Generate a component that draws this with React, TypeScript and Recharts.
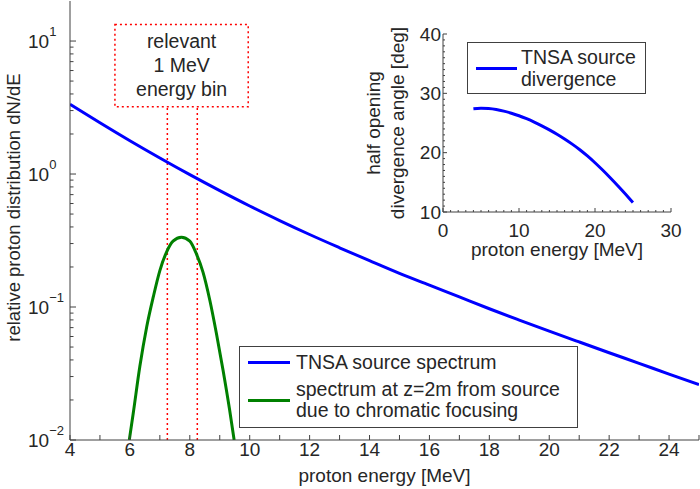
import React from "react"
import {
  LineChart,
  Line,
  XAxis,
  YAxis,
  ReferenceArea,
  ReferenceLine,
  Legend,
} from "recharts"

const FONT = '"Liberation Sans", Arial, Helvetica, sans-serif'
const INK = "#262626"
const FRAME = "#404040"
const BLUE = "#0000ff"
const GREEN = "#008000"
const RED = "#ff0000"

// TNSA source spectrum (relative dN/dE)
const sourceEnergy = [4, 5, 6, 7, 8, 9, 10, 11, 12, 13, 14, 15, 16, 17, 18, 19, 20, 21, 22, 23, 24, 25]
const sourceDnde = [
  3.35, 2.43, 1.78, 1.32, 0.989, 0.75, 0.575, 0.447, 0.351, 0.279, 0.223, 0.179, 0.146, 0.119,
  0.097, 0.0798, 0.0659, 0.0546, 0.0453, 0.0377, 0.0313, 0.0261,
]

// spectrum at z=2m from the source (chromatic focusing)
const focusedEnergy = [
  5.98, 6.11, 6.33, 6.56, 6.78, 7.0, 7.22, 7.44, 7.72, 8.0, 8.22, 8.44, 8.67, 8.89, 9.11, 9.33, 9.48,
]
const focusedDnde = [
  0.01, 0.0158, 0.0355, 0.0708, 0.119, 0.188, 0.258, 0.313, 0.335, 0.313, 0.251, 0.183, 0.112,
  0.063, 0.0335, 0.0168, 0.01,
]

// inset: source divergence (half opening angle, deg)
const divEnergy = [4, 5, 6, 7, 8, 9, 10, 11, 12, 13, 14, 15, 16, 17, 18, 19, 20, 21, 22, 23, 24, 25]
const divAngle = [
  27.4, 27.48, 27.43, 27.27, 27.0, 26.65, 26.22, 25.72, 25.15, 24.52, 23.84, 23.1, 22.3, 21.44,
  20.5, 19.45, 18.3, 17.07, 15.77, 14.42, 13.03, 11.6,
]

const energyTicks = [4, 5, 6, 7, 8, 9, 10, 11, 12, 13, 14, 15, 16, 17, 18, 19, 20, 21, 22, 23, 24, 25]
const dndeTicks = [
  0.01, 0.02, 0.03, 0.04, 0.05, 0.06, 0.07, 0.08, 0.09,
  0.1, 0.2, 0.3, 0.4, 0.5, 0.6, 0.7, 0.8, 0.9,
  1, 2, 3, 4, 5, 6, 7, 8, 9, 10,
]
const insetEnergyTicks = [
  0, 1, 2, 3, 4, 5, 6, 7, 8, 9, 10, 11, 12, 13, 14, 15, 16, 17, 18, 19, 20, 21, 22, 23, 24, 25,
  26, 27, 28, 29, 30,
]
const insetAngleTicks = [
  10, 11, 12, 13, 14, 15, 16, 17, 18, 19, 20, 21, 22, 23, 24, 25, 26, 27, 28, 29, 30, 31, 32,
  33, 34, 35, 36, 37, 38, 39, 40,
]

// the "relevant 1 MeV energy bin" annotation
const binEdges = [7.25, 8.25]
const binBox = { x1: 5.5, x2: 9.95, y1: 3.2, y2: 13.3 }
const binText = ["relevant", "1 MeV", "energy bin"]

const sourceData = sourceEnergy.map((e, i) => ({ e, v: sourceDnde[i] }))
const focusedData = focusedEnergy.map((e, i) => ({ e, v: focusedDnde[i] }))
const divData = divEnergy.map((e, i) => ({ e, v: divAngle[i] }))

const isDecade = (v: number) => Math.abs(Math.log10(v) - Math.round(Math.log10(v))) < 1e-6

const textProps = { fill: INK, fontFamily: FONT }

function leftLogTick({ x, y, payload }: any) {
  const v = payload.value
  const major = isDecade(v)
  const exp = Math.round(Math.log10(v))
  return (
    <g>
      <line x1={x} x2={x + (major ? 6 : 3.5)} y1={y} y2={y} stroke={FRAME} />
      {major && (
        <text x={x - 42} y={y + 7} fontSize={19} {...textProps}>
          10
          <tspan fontSize={13} dy={-12}>
            {exp < 0 ? `\u2212${-exp}` : exp}
          </tspan>
        </text>
      )}
    </g>
  )
}

function rightLogTick({ x, y, payload }: any) {
  const major = isDecade(payload.value)
  return <line x1={x} x2={x - (major ? 6 : 3.5)} y1={y} y2={y} stroke={FRAME} />
}

function bottomTick({ x, y, payload }: any) {
  const v = payload.value
  return (
    <g>
      <line x1={x} x2={x} y1={y} y2={y - 5} stroke={FRAME} />
      {v % 2 === 0 && (
        <text x={x} y={y + 9} textAnchor="middle" dominantBaseline="central" fontSize={19} {...textProps}>
          {v}
        </text>
      )}
    </g>
  )
}

function topTick({ x, y }: any) {
  return <line x1={x} x2={x} y1={y} y2={y + 5} stroke={FRAME} />
}

function insetBottomTick({ x, y, payload }: any) {
  const v = payload.value
  const major = v % 10 === 0
  return (
    <g>
      <line x1={x} x2={x} y1={y} y2={y - (major ? 4 : 2)} stroke={FRAME} />
      {major && (
        <text x={x} y={y + 18} textAnchor="middle" dominantBaseline="central" fontSize={19} {...textProps}>
          {v}
        </text>
      )}
    </g>
  )
}

function insetTopTick({ x, y, payload }: any) {
  const major = payload.value % 10 === 0
  return <line x1={x} x2={x} y1={y} y2={y + (major ? 4 : 2)} stroke={FRAME} />
}

function insetLeftTick({ x, y, payload }: any) {
  const v = payload.value
  const major = v % 10 === 0
  return (
    <g>
      <line x1={x} x2={x + (major ? 4 : 2)} y1={y} y2={y} stroke={FRAME} />
      {major && (
        <text x={x - 2} y={y} textAnchor="end" dominantBaseline="central" fontSize={19} {...textProps}>
          {v}
        </text>
      )}
    </g>
  )
}

function insetRightTick({ x, y, payload }: any) {
  const major = payload.value % 10 === 0
  return <line x1={x} x2={x - (major ? 4 : 2)} y1={y} y2={y} stroke={FRAME} />
}

function MainYTitle({ viewBox }: any) {
  const cx = viewBox.x + 19.5
  const cy = viewBox.y + viewBox.height / 2 - 13
  return (
    <text x={cx} y={cy} transform={`rotate(-90 ${cx} ${cy})`} textAnchor="middle" fontSize={18.5} {...textProps}>
      relative proton distribution dN/dE
    </text>
  )
}

function MainXTitle({ viewBox }: any) {
  return (
    <text x={viewBox.x + viewBox.width / 2} y={viewBox.y + 42} textAnchor="middle" fontSize={19} {...textProps}>
      proton energy [MeV]
    </text>
  )
}

function InsetYTitle({ viewBox }: any) {
  const cy = viewBox.y + viewBox.height / 2
  const lines = [
    { text: "half opening", x: viewBox.x + 19.5 },
    { text: "divergence angle [deg]", x: viewBox.x + 44 },
  ]
  return (
    <g>
      {lines.map((l) => (
        <text
          key={l.text}
          x={l.x}
          y={cy}
          transform={`rotate(-90 ${l.x} ${cy})`}
          textAnchor="middle"
          fontSize={19}
          {...textProps}
        >
          {l.text}
        </text>
      ))}
    </g>
  )
}

function InsetXTitle({ viewBox }: any) {
  return (
    <text x={viewBox.x + viewBox.width / 2} y={viewBox.y + 44} textAnchor="middle" fontSize={19} {...textProps}>
      proton energy [MeV]
    </text>
  )
}

function BinLabel({ viewBox }: any) {
  const cx = viewBox.x + viewBox.width / 2
  return (
    <g>
      {binText.map((t, i) => (
        <text
          key={t}
          x={cx}
          y={viewBox.y + 16 + i * 24}
          textAnchor="middle"
          dominantBaseline="central"
          fontSize={19.5}
          {...textProps}
        >
          {t}
        </text>
      ))}
    </g>
  )
}

function SpectrumLegend({ payload }: any) {
  return (
    <div
      style={{
        width: 339,
        height: 82,
        boxSizing: "border-box",
        border: `1px solid ${FRAME}`,
        background: "#fff",
        fontFamily: FONT,
        fontSize: 19.5,
        color: INK,
        padding: "3px 0 0 8px",
      }}
    >
      {(payload || []).map((p: any, i: number) => (
        <div
          key={i}
          style={{ display: "flex", alignItems: "center", height: i === 0 ? 24 : 42, marginTop: i === 0 ? 0 : 5 }}
        >
          <div style={{ width: 42, height: 3, background: p.color, marginRight: 6, flex: "none" }} />
          <div style={{ whiteSpace: "pre-line", lineHeight: "21px" }}>{p.value}</div>
        </div>
      ))}
    </div>
  )
}

function DivergenceLegend({ payload }: any) {
  return (
    <div
      style={{
        width: 179,
        height: 52,
        boxSizing: "border-box",
        border: `1px solid ${FRAME}`,
        background: "#fff",
        fontFamily: FONT,
        fontSize: 19.5,
        color: INK,
        padding: "2px 0 0 8px",
      }}
    >
      {(payload || []).map((p: any, i: number) => (
        <div key={i} style={{ display: "flex", alignItems: "center", height: 46 }}>
          <div style={{ width: 41, height: 3, background: p.color, marginRight: 4, flex: "none" }} />
          <div style={{ whiteSpace: "pre-line", lineHeight: "22.5px" }}>{p.value}</div>
        </div>
      ))}
    </div>
  )
}

export default function App() {
  return (
    <div style={{ position: "absolute", left: 0, top: 0, width: 700, height: 489, background: "#fff" }}>
      <LineChart width={700} height={489} margin={{ top: 1, right: 1, bottom: 0, left: 0 }}>
        <XAxis
          dataKey="e"
          type="number"
          domain={[4, 25]}
          ticks={energyTicks}
          interval={0}
          allowDataOverflow
          height={49}
          stroke={FRAME}
          tickSize={0}
          tickMargin={0}
          tick={bottomTick}
          label={<MainXTitle />}
        />
        <XAxis
          xAxisId="top"
          orientation="top"
          type="number"
          domain={[4, 25]}
          ticks={energyTicks}
          interval={0}
          allowDataOverflow
          height={0}
          stroke={FRAME}
          tickSize={0}
          tickMargin={0}
          tick={topTick}
        />
        <YAxis
          type="number"
          scale="log"
          domain={[0.01, 20]}
          ticks={dndeTicks}
          interval={0}
          allowDataOverflow
          width={70}
          stroke={FRAME}
          tickSize={0}
          tickMargin={0}
          tick={leftLogTick}
          label={<MainYTitle />}
        />
        <YAxis
          yAxisId="right"
          orientation="right"
          type="number"
          scale="log"
          domain={[0.01, 20]}
          ticks={dndeTicks}
          interval={0}
          allowDataOverflow
          width={0}
          stroke={FRAME}
          tickSize={0}
          tickMargin={0}
          tick={rightLogTick}
        />
        <ReferenceArea
          x1={binBox.x1}
          x2={binBox.x2}
          y1={binBox.y1}
          y2={binBox.y2}
          fill="none"
          stroke={RED}
          strokeWidth={1.5}
          strokeDasharray="2 3"
          label={<BinLabel />}
        />
        {binEdges.map((e) => (
          <ReferenceLine
            key={e}
            segment={[
              { x: e, y: 0.01 },
              { x: e, y: binBox.y1 },
            ]}
            stroke={RED}
            strokeWidth={1.5}
            strokeDasharray="2 3"
          />
        ))}
        <Line
          data={sourceData}
          dataKey="v"
          name="TNSA source spectrum"
          type="monotone"
          stroke={BLUE}
          strokeWidth={3}
          dot={false}
          isAnimationActive={false}
        />
        <Line
          data={focusedData}
          dataKey="v"
          name={"spectrum at z=2m from source\ndue to chromatic focusing"}
          type="monotone"
          stroke={GREEN}
          strokeWidth={3}
          dot={false}
          isAnimationActive={false}
        />
        <Legend
          layout="horizontal"
          verticalAlign="middle"
          align="center"
          content={<SpectrumLegend />}
          wrapperStyle={{ left: 239, top: 346, width: "auto" }}
        />
      </LineChart>

      <div style={{ position: "absolute", left: 360, top: 20 }}>
        <LineChart width={345} height={250} data={divData} margin={{ top: 14, right: 34, bottom: 0, left: 0 }}>
          <XAxis
            dataKey="e"
            type="number"
            domain={[0, 30]}
            ticks={insetEnergyTicks}
            interval={0}
            allowDataOverflow
            height={58}
            stroke={FRAME}
            tickSize={0}
            tickMargin={0}
            tick={insetBottomTick}
            label={<InsetXTitle />}
          />
          <XAxis
            xAxisId="top"
            orientation="top"
            type="number"
            domain={[0, 30]}
            ticks={insetEnergyTicks}
            interval={0}
            allowDataOverflow
            height={0}
            stroke={FRAME}
            tickSize={0}
            tickMargin={0}
            tick={insetTopTick}
          />
          <YAxis
            type="number"
            domain={[10, 40]}
            ticks={insetAngleTicks}
            interval={0}
            allowDataOverflow
            width={83}
            stroke={FRAME}
            tickSize={0}
            tickMargin={0}
            tick={insetLeftTick}
            label={<InsetYTitle />}
          />
          <YAxis
            yAxisId="right"
            orientation="right"
            type="number"
            domain={[10, 40]}
            ticks={insetAngleTicks}
            interval={0}
            allowDataOverflow
            width={0}
            stroke={FRAME}
            tickSize={0}
            tickMargin={0}
            tick={insetRightTick}
          />
          <Line
            dataKey="v"
            name={"TNSA source\ndivergence"}
            type="monotone"
            stroke={BLUE}
            strokeWidth={3}
            dot={false}
            isAnimationActive={false}
          />
          <Legend
            layout="horizontal"
            verticalAlign="middle"
            align="center"
            content={<DivergenceLegend />}
            wrapperStyle={{ left: 107, top: 22, width: "auto" }}
          />
        </LineChart>
      </div>
    </div>
  )
}
